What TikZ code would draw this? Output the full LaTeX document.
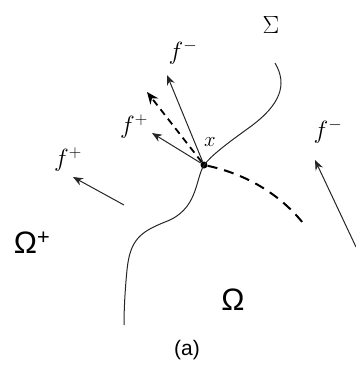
\documentclass[tikz,border=0pt]{standalone}
\usepackage{fontspec}
\newfontfamily\capfont{Liberation Sans}
\usetikzlibrary{arrows.meta}

\begin{document}
\begin{tikzpicture}[x=1pt, y=-1pt,
  lab/.style={font=\fontsize{25}{30}\selectfont, inner sep=1pt},
  reg/.style={font=\capfont\fontsize{31}{36}\selectfont, inner sep=1pt},
  arr/.style={-{Stealth[length=10pt,width=8pt]}, line width=1pt, black!85},
  fat/.style={-{Stealth[length=12pt,width=10pt]}, line width=1.8pt, dash pattern=on 7pt off 5pt},
  iface/.style={line width=1pt, black!85},
  front/.style={line width=2pt, dash pattern=on 10pt off 7pt}
]
\useasboundingbox (0,0) rectangle (356,389);
% point on the interface
\node[circle, fill, inner sep=0pt, minimum size=7pt] (x) at (204,165) {};
\node[lab, font=\fontsize{22}{26}\selectfont] (xl) at (210,142) {$x$};
\node[lab, font=\fontsize{27}{32}\selectfont] (sig) at (271,25) {$\Sigma$};
\node[reg] (omp) at (32,243) {Ω\textsuperscript{+}};
\node[reg] (om) at (233,300) {Ω};
\node[font=\capfont\fontsize{21}{25}\selectfont] (cap) at (187,350) {(a)};
% interface and front
\coordinate (s0) at (275,63);
\coordinate (s1) at (124,325);
\coordinate (d1) at (303,223);
\draw[iface] (s0) .. controls (288,85) and (280,105) .. (250,127)
  .. controls (225,145) and (212,155) .. (x.center)
  .. controls (195,180) and (198,210) .. (165,222)
  .. controls (140,232) and (130,240) .. (127,270)
  .. controls (125,290) and (124,310) .. (s1);
\draw[front] (x) .. controls (250,175) and (282,197) .. (d1);
% arrows at x
\coordinate (tm) at (167,75);
\coordinate (tb) at (147,92);
\coordinate (tp) at (152,133);
\draw[arr] (x) -- (tm);
\draw[fat] (x) -- (tb);
\draw[arr] (x) -- (tp);
\node[lab] (fm) at (183,52) {$f^-$};
\node[lab] (fp) at (134,127) {$f^+$};
% arrows away from x
\coordinate (l0) at (124,205);
\coordinate (l1) at (73,177);
\draw[arr] (l0) -- (l1);
\node[lab] (fl) at (68,160) {$f^+$};
\coordinate (r0) at (356,247);
\coordinate (r1) at (315,160);
\draw[arr] (r0) -- (r1);
\node[lab] (fr) at (328,131) {$f^-$};
\end{tikzpicture}
\end{document}
